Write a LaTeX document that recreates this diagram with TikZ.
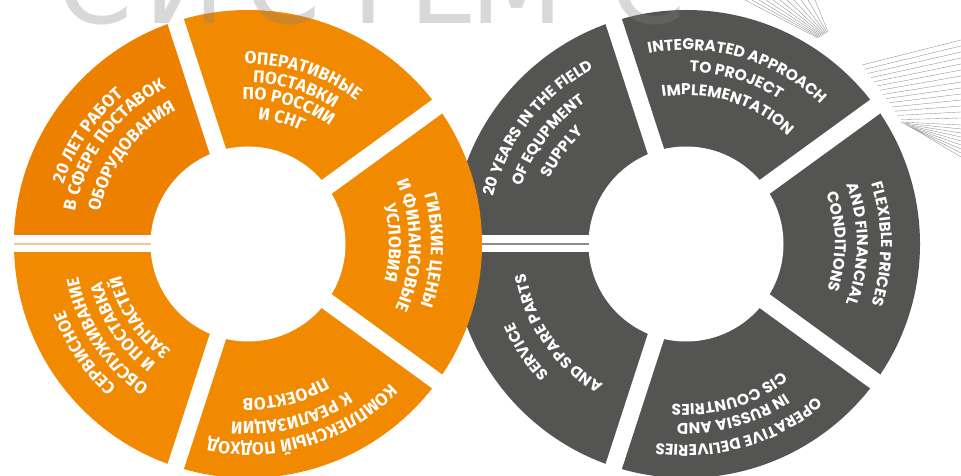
\documentclass[tikz,border=0pt]{standalone}
\usepackage{fontspec}
\setmainfont{Fira Sans}
\newfontfamily\rufam{Fira Sans}
\newfontfamily\enfam{Poppins}
\newfontfamily\wmfam{DejaVu Sans}
\usetikzlibrary{decorations.text}
\definecolor{ringor}{RGB}{241,138,0}
\definecolor{ringorB}{RGB}{238,128,0}
\definecolor{ringgray}{RGB}{84,84,83}
\definecolor{paleor}{RGB}{246,196,140}
\definecolor{midgray}{RGB}{140,140,140}
\newcommand\rufmt{\color{white}\rufam\bfseries\fontsize{17.3}{20}\selectfont}
\newcommand\enfmt{\color{white}\enfam\bfseries\fontsize{15.5}{18}\selectfont}
\newcommand\arctext[5]{\path[decorate,decoration={text along path,text align=center,text={|#4|#5}}] ([shift={(#3+70:#2)}]#1) arc[start angle=#3+70,end angle=#3-70,radius=#2];}
\tikzset{
  gapcut/.style={draw=white,line width=17pt},
  wm/.style={font=\wmfam\fontsize{108}{108}\selectfont,text=black!50,text opacity=0.3,anchor=base,inner sep=0pt},
  mesh/.style={draw=black!45,line width=0.35pt}
}
\begin{document}
\begin{tikzpicture}[x=1pt,y=1pt]
\useasboundingbox (0,0) rectangle (961,476);
\fill[white] (0,0) rectangle (961,476);
\clip (0,0) rectangle (961,476);
\coordinate (O) at (248,232);
\coordinate (G) at (686,232);
% gray ring
\fill[ringgray] (G) circle[radius=234];
\fill[white] (G) circle[radius=97.5];
\foreach \a in {180,108,36,-36,-108} \draw[gapcut] (G) -- ++(\a:245);
\draw[midgray,line width=2pt] ([shift={(180:97.5)}]G) -- ([shift={(180:234)}]G);
\arctext{G}{198}{142}{\enfmt}{20 YEARS IN THE FIELD}
\arctext{G}{174}{143}{\enfmt}{OF EQUPMENT}
\arctext{G}{151}{143.5}{\enfmt}{SUPPLY}
\arctext{G}{194}{73.5}{\enfmt}{INTEGRATED APPROACH}
\arctext{G}{172}{73}{\enfmt}{TO PROJECT}
\arctext{G}{149}{72.8}{\enfmt}{IMPLEMENTATION}
\arctext{G}{195}{0}{\enfmt}{FLEXIBLE PRICES}
\arctext{G}{171}{0}{\enfmt}{AND FINANCIAL}
\arctext{G}{149}{1}{\enfmt}{CONDITIONS}
\arctext{G}{189}{214}{\enfmt}{SERVICE}
\arctext{G}{163}{215}{\enfmt}{AND SPARE PARTS}
\arctext{G}{201}{-74}{\enfmt}{OPERATIVE DELIVERIES}
\arctext{G}{179}{-74.7}{\enfmt}{IN RUSSIA AND}
\arctext{G}{160}{-74}{\enfmt}{CIS COUNTRIES}
% orange ring
\fill[ringor] (O) circle[radius=234];
\fill[ringorB] (O) -- ++(108:234) arc[start angle=108,end angle=180,radius=234] -- cycle;
\fill[white] (O) circle[radius=97.5];
\foreach \a in {180,108,36,-36,-108} \draw[gapcut] (O) -- ++(\a:245);
\draw[paleor,line width=2pt] ([shift={(180:97.5)}]O) -- ([shift={(180:234)}]O);
\arctext{O}{194}{146}{\rufmt}{20 ЛЕТ РАБОТ}
\arctext{O}{176}{143.5}{\rufmt}{В СФЕРЕ ПОСТАВОК}
\arctext{O}{152}{143}{\rufmt}{ОБОРУДОВАНИЯ}
\arctext{O}{180}{72}{\rufmt}{ОПЕРАТИВНЫЕ}
\arctext{O}{161}{73}{\rufmt}{ПОСТАВКИ}
\arctext{O}{144}{73.7}{\rufmt}{ПО РОССИИ}
\arctext{O}{125}{75}{\rufmt}{И СНГ}
\arctext{O}{183}{-2}{\rufmt}{ГИБКИЕ ЦЕНЫ}
\arctext{O}{161}{-0.5}{\rufmt}{И ФИНАНСОВЫЕ}
\arctext{O}{141}{0.5}{\rufmt}{УСЛОВИЯ}
\arctext{O}{195}{213.7}{\rufmt}{СЕРВИСНОЕ}
\arctext{O}{173}{213}{\rufmt}{ОБСЛУЖИВАНИЕ}
\arctext{O}{151}{213.5}{\rufmt}{И ПОСТАВКА}
\arctext{O}{131}{214}{\rufmt}{ЗАПЧАСТЕЙ}
\arctext{O}{199}{-73}{\rufmt}{КОМПЛЕКСНЫЙ ПОДХОД}
\arctext{O}{178}{-75.7}{\rufmt}{К РЕАЛИЗАЦИИ}
\arctext{O}{154}{-76}{\rufmt}{ПРОЕКТОВ}
% watermark
\node[wm] (w1) at (95,452) {С};
\node[wm] (w2) at (185,452) {И};
\node[wm] (w3) at (283,452) {С};
\node[wm] (w4) at (368,452) {Т};
\node[wm] (w5) at (444,452) {Е};
\node[wm] (w6) at (517,452) {М};
\node[wm] (w7) at (648,452) {С};
% decorative string art
\foreach \i in {0,...,10} \draw[mesh] ({745+7*\i},476) -- ({818+1*\i},{438+0.6*\i});
\foreach \i in {0,...,13} \draw[mesh] ({862+3*\i},{476-65-4.2*\i}) -- (961,{476-40-6*\i});
\foreach \j in {0,...,8} \draw[mesh] ({900+2*\j},{476-122-1*\j}) -- (961,{476-125-4*\j});
\end{tikzpicture}
\end{document}
